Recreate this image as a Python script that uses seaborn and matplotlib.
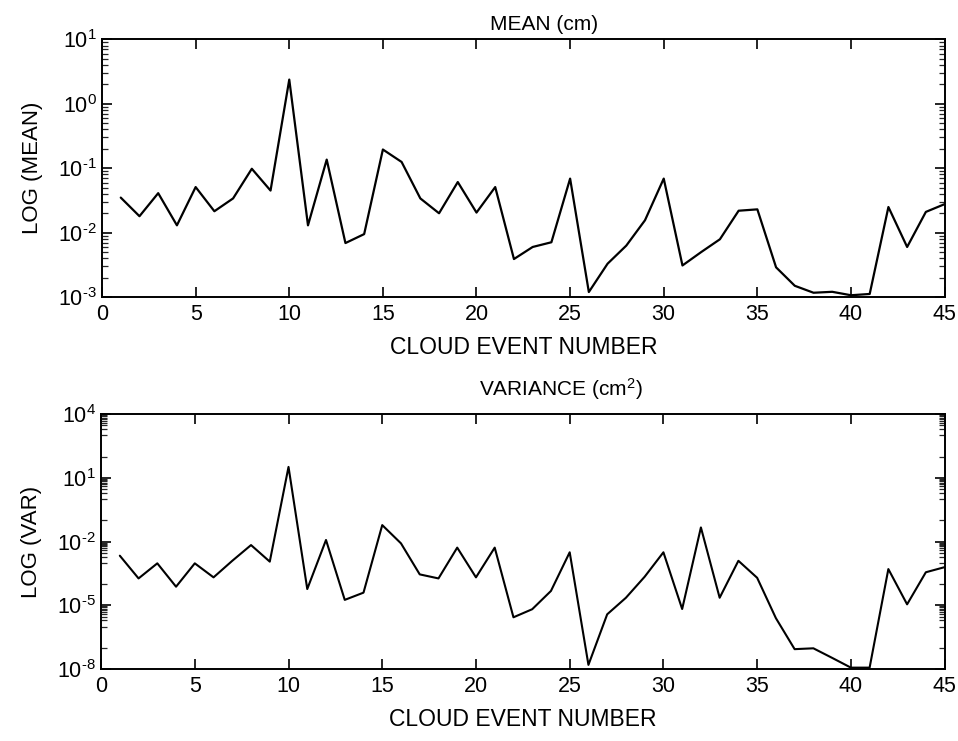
import numpy as np
import pandas as pd
import seaborn as sns
import matplotlib.pyplot as plt
from matplotlib.ticker import LogLocator, NullFormatter, FixedLocator, FuncFormatter

# cloud event numbers
events = list(range(1, 46))

# mean per event (cm)
mean_cm = [0.035, 0.018, 0.041, 0.013, 0.051, 0.0215, 0.034, 0.098, 0.045, 2.37,
           0.013, 0.136, 0.0069, 0.0095, 0.195, 0.125, 0.034, 0.020, 0.061, 0.0205,
           0.051, 0.0039, 0.006, 0.0071, 0.069, 0.0012, 0.0033, 0.0063, 0.0156, 0.069,
           0.0031, 0.005, 0.0079, 0.0219, 0.023, 0.0029, 0.0015, 0.00117, 0.00121, 0.00107,
           0.00112, 0.025, 0.006, 0.021, 0.0277]

# variance per event, as log10 exponents
var_log10 = [-2.66, -3.73, -3.02, -4.12, -3.02, -3.68, -2.9, -2.16, -2.94, 1.52,
             -4.23, -1.92, -4.74, -4.4, -1.22, -2.08, -3.54, -3.73, -2.28, -3.68,
             -2.28, -5.56, -5.18, -4.32, -2.5, -7.8, -5.42, -4.64, -3.65, -2.5,
             -5.17, -1.33, -4.64, -2.9, -3.7, -5.6, -7.06, -7.02, -7.47, -7.93,
             -7.93, -3.29, -4.95, -3.44, -3.2]

xticks = [0, 5, 10, 15, 20, 25, 30, 35, 40, 45]
mean_exps = [-3, -2, -1, 0, 1]
var_exps = [-8, -5, -2, 1, 4]

df = pd.DataFrame({"event": events, "mean": mean_cm,
                   "var": [10.0 ** v for v in var_log10]})

sns.set_style("ticks")
plt.rcParams["font.family"] = ["Liberation Sans", "DejaVu Sans"]
plt.rcParams["mathtext.fontset"] = "custom"
plt.rcParams["mathtext.rm"] = "Liberation Sans"
plt.rcParams["mathtext.it"] = "Liberation Sans"
plt.rcParams["text.color"] = "black"
plt.rcParams["axes.labelcolor"] = "black"


def pow10(v, pos):
    # scan uses a short hyphen in the exponent
    e = int(round(np.log10(v)))
    s = str(e).replace("-", r"\text{-}")
    return r"$\mathregular{10^{%s}}$" % s


fig = plt.figure(figsize=(9.58, 7.41), dpi=100)
ax1 = fig.add_axes([0.1065, 0.599, 0.8795, 0.348])
ax2 = fig.add_axes([0.1055, 0.097, 0.8805, 0.344])


def style_axis(ax, exps, ylabel):
    ax.set_yscale("log")
    ax.set_xlim(0, 45)
    ax.set_ylim(10.0 ** exps[0], 10.0 ** exps[-1])
    ax.set_xticks(xticks)
    ax.yaxis.set_major_locator(FixedLocator([10.0 ** e for e in exps]))
    ax.yaxis.set_major_formatter(FuncFormatter(pow10))
    ax.yaxis.set_minor_formatter(NullFormatter())
    ax.tick_params(axis="both", which="major", direction="in", length=7, width=1.2,
                   top=True, right=True, labelsize=15.5, colors="black")
    ax.tick_params(axis="y", which="minor", direction="in", length=4, width=0.9,
                   left=True, right=True)
    ax.tick_params(axis="x", pad=5)
    for s in ax.spines.values():
        s.set_linewidth(1.4)
        s.set_color("black")
    ax.set_xlabel("CLOUD EVENT NUMBER", fontsize=16.5, labelpad=8)
    ax.set_ylabel(ylabel, fontsize=16, labelpad=11)


sns.lineplot(data=df, x="event", y="mean", ax=ax1, color="black", linewidth=1.6)
style_axis(ax1, mean_exps, "LOG (MEAN)")
ax1.yaxis.set_minor_locator(LogLocator(base=10, subs=np.arange(2, 10), numticks=50))
ax1.set_title("MEAN (cm)", fontsize=15, x=0.525, pad=7)

sns.lineplot(data=df, x="event", y="var", ax=ax2, color="black", linewidth=1.5)
style_axis(ax2, var_exps, "LOG (VAR)")
# single ticks at every decade, a dense cluster just under each labelled one
minor = [10.0 ** e for e in range(var_exps[0], var_exps[-1] + 1) if e not in var_exps]
for e in var_exps[1:]:
    minor += [m * 10.0 ** (e - 1) for m in range(2, 10)]
ax2.yaxis.set_minor_locator(FixedLocator(minor))
ax2.set_title("VARIANCE (cm$^2$)", fontsize=15, x=0.545, pad=13)

fig.savefig("out.png", dpi=100)
